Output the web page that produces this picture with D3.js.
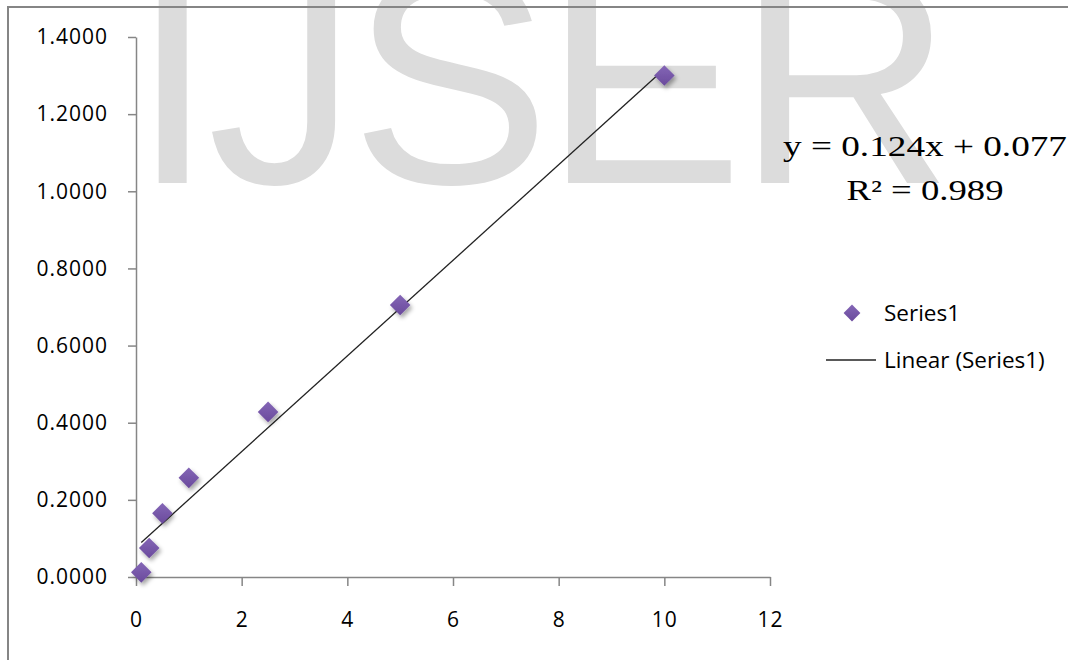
<!DOCTYPE html>
<html>
<head>
<meta charset="utf-8">
<script src="https://cdn.jsdelivr.net/npm/d3@7"></script>
<style>
  body { margin: 0; background: #fff; }
  svg { display: block; }
</style>
</head>
<body>
<div id="chart"></div>
<script>
// dane
var xValues = [0.1, 0.25, 0.5, 1, 2.5, 5, 10];
var yValues = [0.012, 0.075, 0.165, 0.257, 0.428, 0.705, 1.300];
var xTicks = [0, 2, 4, 6, 8, 10, 12];
var yTicks = [0, 0.2, 0.4, 0.6, 0.8, 1.0, 1.2, 1.4];
var trendSlope = 0.124, trendIntercept = 0.077;
var equationLines = ["y = 0.124x + 0.077", "R\u00b2 = 0.989"];
var legendLabels = ["Series1", "Linear (Series1)"];

var W = 1068, H = 660;
var margin = {top: 37, left: 136, right: 298, bottom: 83};

var svg = d3.select("#chart").append("svg")
  .attr("width", W)
  .attr("height", H);

var defs = svg.append("defs");
var shadow = defs.append("filter").attr("id", "shadow")
  .attr("x", "-50%").attr("y", "-50%").attr("width", "200%").attr("height", "200%");
shadow.append("feDropShadow")
  .attr("dx", 2).attr("dy", 3).attr("stdDeviation", 2)
  .attr("flood-color", "#000").attr("flood-opacity", 0.35);
var grad = defs.append("linearGradient").attr("id", "purple")
  .attr("x1", 0).attr("y1", 0).attr("x2", 0).attr("y2", 1);
grad.append("stop").attr("offset", "0%").attr("stop-color", "#8466b6");
grad.append("stop").attr("offset", "100%").attr("stop-color", "#6a4a9c");

// znak wodny w tle
svg.append("text")
  .attr("x", 131)
  .attr("y", 183)
  .style("font-family", "'Liberation Sans', Arial, sans-serif")
  .style("font-size", "300px")
  .style("letter-spacing", "-7px")
  .style("fill", "#dcdcdc")
  .text("IJSER");

// ramka (tylko gora i lewa strona)
svg.append("path")
  .attr("d", "M8,660 L8,7 L1068,7")
  .attr("fill", "none")
  .attr("stroke", "#858585")
  .attr("stroke-width", 2);

var x = d3.scaleLinear().domain([0, 12]).range([margin.left, W - margin.right]);
var y = d3.scaleLinear().domain([0, 1.4]).range([H - margin.bottom, margin.top]);

var tickFont = "'Open Sans', sans-serif";

// os X
var gx = svg.append("g")
  .attr("transform", "translate(0," + y(0) + ")")
  .call(d3.axisBottom(x).tickValues(xTicks).tickSize(9).tickSizeOuter(0).tickPadding(26));
// os Y
var gy = svg.append("g")
  .attr("transform", "translate(" + x(0) + ",0)")
  .call(d3.axisLeft(y).tickValues(yTicks).tickFormat(d3.format(".4f")).tickSize(8).tickSizeOuter(0).tickPadding(20));

[gx, gy].forEach(function (g) {
  g.select(".domain").attr("stroke", "#868686").attr("stroke-width", 1.5);
  g.selectAll(".tick line").attr("stroke", "#868686").attr("stroke-width", 1.5);
  g.selectAll(".tick text")
    .style("font-family", tickFont)
    .style("font-size", "21px")
    .style("letter-spacing", "1px")
    .attr("fill", "#000");
});

// linia trendu
var trendX = d3.extent(xValues);
svg.append("line")
  .attr("x1", x(trendX[0])).attr("y1", y(trendSlope * trendX[0] + trendIntercept))
  .attr("x2", x(trendX[1])).attr("y2", y(trendSlope * trendX[1] + trendIntercept))
  .attr("stroke", "#222")
  .attr("stroke-width", 1.3);

// punkty (romby)
var diamond = d3.symbol().type(d3.symbolDiamond2).size(270);
svg.append("g").selectAll("path")
  .data(xValues)
  .enter().append("path")
    .attr("d", diamond)
    .attr("transform", function (d, i) { return "translate(" + x(d) + "," + y(yValues[i]) + ")"; })
    .attr("fill", "url(#purple)")
    .attr("filter", "url(#shadow)");

// rownanie trendu
var eq = svg.append("g")
  .style("font-family", "'Liberation Serif', 'Times New Roman', serif")
  .style("font-size", "29px")
  .attr("fill", "#000")
  .attr("text-anchor", "middle");
eq.append("text").attr("x", 925).attr("y", 156)
  .attr("textLength", 284).attr("lengthAdjust", "spacingAndGlyphs")
  .text(equationLines[0]);
eq.append("text").attr("x", 925).attr("y", 200)
  .attr("textLength", 157).attr("lengthAdjust", "spacingAndGlyphs")
  .text(equationLines[1]);

// legenda
var legend = svg.append("g")
  .style("font-family", tickFont)
  .style("font-size", "22.5px");
legend.append("path")
  .attr("d", d3.symbol().type(d3.symbolDiamond2).size(180))
  .attr("transform", "translate(852,313)")
  .attr("fill", "url(#purple)");
legend.append("text").attr("x", 884).attr("y", 313).attr("dy", "0.35em").text(legendLabels[0]);
legend.append("line")
  .attr("x1", 826).attr("x2", 876).attr("y1", 360).attr("y2", 360)
  .attr("stroke", "#222").attr("stroke-width", 1.3);
legend.append("text").attr("x", 884).attr("y", 360).attr("dy", "0.35em").text(legendLabels[1]);
</script>
</body>
</html>
